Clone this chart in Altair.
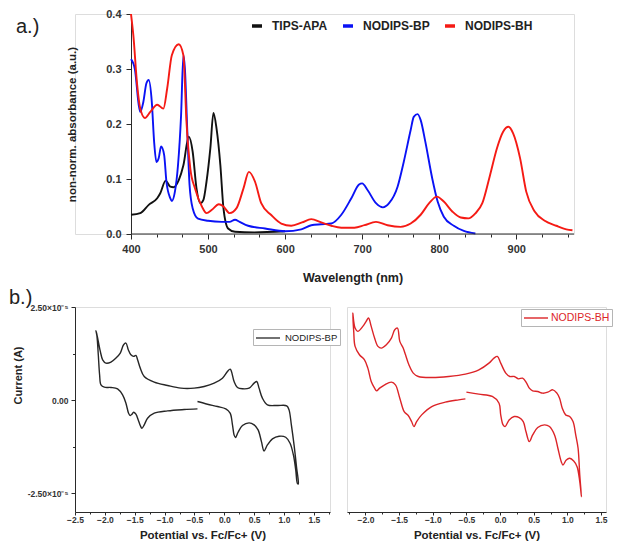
import altair as alt
import pandas as pd

# ---------------- data: absorption spectra ----------------
series_names = ["TIPS-APA", "NODIPS-BP", "NODIPS-BH"]
series_colors = ["#111111", "#0a12f5", "#f51a14"]

wl_tips = [400, 412, 423, 434, 438, 445, 451, 455, 462, 468, 475, 480, 485, 490, 494,
           498, 503, 507, 511, 516, 520, 526, 535, 560, 600]
ab_tips = [0.035, 0.038, 0.053, 0.065, 0.074, 0.097, 0.086, 0.085, 0.098, 0.125, 0.177,
           0.150, 0.083, 0.056, 0.062, 0.095, 0.156, 0.220, 0.192, 0.125, 0.047, 0.010,
           0.004, 0.003, 0.005]

wl_bp = [400, 405, 410, 412, 416, 420, 423, 427, 430, 433, 436, 439, 443, 446, 451, 453,
         457, 461, 465, 468, 470, 473, 476, 480, 487, 500, 518, 528, 535, 541, 552, 574,
         600, 621, 634, 647, 660, 673, 686, 696, 700, 707, 718, 727, 735, 746, 754, 763,
         767, 772, 776, 782, 791, 798, 806, 819, 832, 847]
ab_bp = [0.318, 0.300, 0.235, 0.222, 0.240, 0.274, 0.280, 0.240, 0.168, 0.131, 0.138,
         0.159, 0.144, 0.095, 0.065, 0.060, 0.077, 0.125, 0.216, 0.325, 0.300, 0.190,
         0.089, 0.047, 0.028, 0.024, 0.022, 0.022, 0.026, 0.022, 0.015, 0.010, 0.005,
         0.0085, 0.016, 0.0176, 0.019, 0.035, 0.065, 0.090, 0.092, 0.080, 0.056, 0.0485,
         0.056, 0.086, 0.131, 0.189, 0.213, 0.218, 0.207, 0.168, 0.101, 0.059, 0.0315,
         0.015, 0.0055, 0.001]

wl_bh = [400, 403, 408, 412, 418, 425, 434, 442, 447, 453, 462, 468, 472, 477, 483, 492,
         498, 505, 514, 520, 528, 537, 546, 553, 561, 569, 582, 595, 608, 622, 634, 647,
         660, 673, 690, 703, 718, 733, 750, 763, 776, 787, 797, 806, 817, 828, 838, 847,
         856, 866, 875, 883, 890, 896, 905, 913, 924, 937, 952, 965, 973]
ab_bh = [0.400, 0.362, 0.271, 0.228, 0.211, 0.222, 0.235, 0.228, 0.265, 0.325, 0.345,
         0.325, 0.204, 0.119, 0.083, 0.050, 0.038, 0.044, 0.054, 0.050, 0.038, 0.047,
         0.083, 0.113, 0.095, 0.056, 0.0345, 0.019, 0.015, 0.021, 0.027, 0.021, 0.015,
         0.0115, 0.0115, 0.016, 0.022, 0.016, 0.013, 0.019, 0.035, 0.056, 0.068, 0.059,
         0.041, 0.030, 0.0285, 0.0376, 0.056, 0.107, 0.156, 0.186, 0.195, 0.183, 0.138,
         0.077, 0.041, 0.024, 0.015, 0.0085, 0.0067]

# ---------------- data: cyclic voltammograms (current in 1e-5 A) ----------------
cv_bp_v = [-0.449, -0.282, -0.114, 0.025, 0.098, 0.137, 0.164, 0.187, 0.231, 0.304, 0.415,
           0.499, 0.566, 0.622, 0.666, 0.722, 0.806, 0.917, 1.028, 1.101, 1.157, 1.196,
           1.224, 1.240, 1.212, 1.168, 1.123, 1.084, 1.045, 0.889, 0.722, 0.638, 0.582,
           0.543, 0.499, 0.415, 0.304, 0.220, 0.164, 0.120, 0.098, 0.053, -0.031, -0.170,
           -0.337, -0.505, -0.727, -0.950, -1.173, -1.341, -1.407, -1.452, -1.480, -1.519,
           -1.564, -1.608, -1.647, -1.686, -1.742, -1.814, -1.898, -1.982, -2.037, -2.076,
           -2.110, -2.138, -2.149, -2.132, -2.110, -2.088, -2.065, -2.009, -1.898, -1.787,
           -1.703, -1.647, -1.603, -1.575, -1.547, -1.519, -1.480, -1.441, -1.407, -1.380,
           -1.341, -1.285, -1.173, -0.950, -0.672, -0.449]
cv_bp_i = [-0.036, -0.108, -0.170, -0.233, -0.349, -0.663, -0.932, -1.004, -0.860, -0.681,
           -0.609, -0.663, -0.797, -1.111, -1.362, -1.201, -1.039, -0.968, -0.995, -1.156,
           -1.470, -1.873, -2.231, -2.249, -1.828, -1.201, -0.663, -0.260, -0.152, -0.143,
           -0.125, 0.054, 0.323, 0.502, 0.457, 0.323, 0.305, 0.341, 0.502, 0.771, 0.833,
           0.771, 0.591, 0.457, 0.367, 0.323, 0.323, 0.394, 0.484, 0.636, 0.860, 1.084,
           1.201, 1.174, 1.219, 1.353, 1.532, 1.487, 1.263, 1.129, 1.022, 0.995, 1.084,
           1.308, 1.577, 1.801, 1.864, 1.711, 1.219, 0.681, 0.412, 0.349, 0.341, 0.305,
           0.143, -0.081, -0.349, -0.412, -0.376, -0.323, -0.376, -0.529, -0.681, -0.753,
           -0.663, -0.484, -0.349, -0.287, -0.251, -0.233]

cv_bh_v = [-0.500, -0.315, -0.115, -0.015, 0.010, 0.045, 0.075, 0.135, 0.210, 0.285, 0.345,
           0.385, 0.435, 0.485, 0.560, 0.660, 0.735, 0.810, 0.860, 0.910, 0.935, 0.985,
           1.035, 1.095, 1.145, 1.185, 1.210, 1.185, 1.160, 1.125, 1.085, 1.035, 0.975,
           0.925, 0.885, 0.845, 0.785, 0.710, 0.635, 0.560, 0.485, 0.435, 0.395, 0.335,
           0.275, 0.210, 0.145, 0.085, 0.010, -0.040, -0.090, -0.165, -0.315, -0.515,
           -0.765, -1.015, -1.215, -1.290, -1.355, -1.405, -1.440, -1.490, -1.525, -1.565,
           -1.615, -1.690, -1.765, -1.815, -1.865, -1.915, -1.955, -1.990, -2.040, -2.115,
           -2.155, -2.190, -2.175, -2.155, -2.090, -2.015, -1.965, -1.915, -1.865, -1.835,
           -1.790, -1.715, -1.615, -1.555, -1.490, -1.425, -1.365, -1.315, -1.280, -1.240,
           -1.165, -1.015, -0.815, -0.615, -0.515]
cv_bh_i = [0.215, 0.161, 0.099, -0.081, -0.394, -0.663, -0.708, -0.529, -0.439, -0.466,
           -0.573, -0.842, -1.111, -0.932, -0.735, -0.663, -0.708, -0.932, -1.290, -1.649,
           -1.738, -1.604, -1.559, -1.631, -1.783, -2.186, -2.590, -2.007, -1.290, -0.932,
           -0.573, -0.439, -0.394, -0.215, 0.054, 0.188, 0.278, 0.215, 0.188, 0.233, 0.251,
           0.323, 0.457, 0.591, 0.573, 0.636, 0.636, 0.726, 0.995, 1.174, 1.129, 0.995,
           0.815, 0.699, 0.636, 0.609, 0.636, 0.726, 0.950, 1.219, 1.398, 1.577, 1.935,
           1.891, 1.667, 1.487, 1.398, 1.443, 1.667, 1.980, 2.204, 2.115, 1.980, 1.846,
           1.935, 2.339, 1.846, 1.443, 1.219, 1.084, 0.860, 0.502, 0.323, 0.251, 0.323,
           0.412, 0.484, 0.412, 0.054, -0.305, -0.412, -0.573, -0.708, -0.573, -0.394,
           -0.170, -0.054, 0.009, 0.036]

# ---------------- tables ----------------
spec = pd.concat([
    pd.DataFrame({"wl": wl_tips, "ab": ab_tips, "series": "TIPS-APA"}),
    pd.DataFrame({"wl": wl_bp, "ab": ab_bp, "series": "NODIPS-BP"}),
    pd.DataFrame({"wl": wl_bh, "ab": ab_bh, "series": "NODIPS-BH"}),
], ignore_index=True)
cv_bp = pd.DataFrame({"v": cv_bp_v, "i": cv_bp_i, "series": "NODIPS-BP",
                      "idx": range(len(cv_bp_v))})
cv_bh = pd.DataFrame({"v": cv_bh_v, "i": cv_bh_i, "series": "NODIPS-BH",
                      "idx": range(len(cv_bh_v))})

FONT = "Liberation Sans"
INK = "#2a2a2a"

# ---------------- panel a ----------------
TOP_W = 443.0          # width of the 400-975 nm span
EXT = 56.0             # extra room on the left so the y axis sits right of panel b's
WL_MIN_AXIS = 400.0
WL_MAX = 975.0
wl_min = WL_MIN_AXIS - EXT * (WL_MAX - WL_MIN_AXIS) / TOP_W

wl_ticks = [400 + k * 100 / 3 for k in range(18)]
is_major = "abs(datum.value/100 - round(datum.value/100)) < 0.01"
x_top = alt.X("wl:Q", scale=alt.Scale(domain=[wl_min, WL_MAX], nice=False, zero=False),
              axis=alt.Axis(values=wl_ticks, title="Wavelength (nm)", domain=False,
                            labelExpr=is_major + " ? format(datum.value, '.0f') : ''",
                            tickSize={"condition": {"test": is_major, "value": 5}, "value": 3},
                            labelPadding=4, labelFlush=False, labelOverlap=False,
                            labelFontWeight="bold", labelFontSize=11, labelColor="#333",
                            titleFontWeight="bold", titleFontSize=12.5, titleColor="#222",
                            titleX=EXT + TOP_W / 2, titleY=37, titleBaseline="top",
                            tickColor=INK, grid=False))
y_top = alt.Y("ab:Q", scale=alt.Scale(domain=[0, 0.4], nice=False),
              axis=alt.Axis(values=[0, 0.1, 0.2, 0.3, 0.4], format=".1f", offset=-EXT,
                            title="non-norm. absorbance (a.u.)",
                            tickSize=5, labelPadding=5,
                            labelFontWeight="bold", labelFontSize=11, labelColor="#333",
                            titleFontWeight="bold", titleFontSize=11.5, titleColor="#222",
                            titleX=-54, titleY=110,
                            domainColor=INK, tickColor=INK, grid=False))

top_lines = alt.Chart(spec).mark_line(strokeWidth=1.9, interpolate="monotone").encode(
    x=x_top, y=y_top,
    color=alt.Color("series:N",
                    scale=alt.Scale(domain=series_names, range=series_colors),
                    sort=series_names,
                    legend=alt.Legend(orient="none", legendX=EXT + 119, legendY=5,
                                      direction="horizontal", title=None,
                                      symbolType="stroke", symbolSize=100,
                                      symbolStrokeWidth=3.5, labelFont=FONT,
                                      labelFontWeight="bold", labelFontSize=12,
                                      labelColor="#222", columnPadding=8,
                                      labelOffset=8, padding=0)),
    order=alt.Order("wl:Q"),
)
# x axis line drawn only over the measured 400-975 nm span
base_df = pd.DataFrame({"wl": [WL_MIN_AXIS], "wl2": [WL_MAX], "ab": [0.0]})
baseline = alt.Chart(base_df).mark_rule(color=INK, strokeWidth=1).encode(
    x=x_top, x2="wl2:Q", y=y_top)
a_label = alt.Chart(pd.DataFrame({"t": ["a.)"]})).mark_text(
    fontSize=20, font=FONT, color="#222", align="left", baseline="middle"
).encode(x=alt.value(-59), y=alt.value(13), text="t:N")

top = alt.layer(top_lines, baseline, a_label).properties(width=EXT + TOP_W, height=220)

# ---------------- panel b ----------------
cv_xticks = [-2.5 + 0.25 * k for k in range(18)]
cv_xticks_r = [-2.25 + 0.25 * k for k in range(16)]
is_half = "abs(datum.value*2 - round(datum.value*2)) < 0.01"
lab_x = is_half + " ? format(datum.value, '.1f') : ''"
tick_x = {"condition": {"test": is_half, "value": 3}, "value": 2}


def cv_xaxis(vals):
    return alt.Axis(values=vals, title="Potential vs. Fc/Fc+ (V)", labelExpr=lab_x,
                    tickSize=tick_x, labelPadding=0, labelFlush=False, labelOverlap=False,
                    labelFontWeight="bold", labelFontSize=8.5, labelColor="#333",
                    titleFontWeight="bold", titleFontSize=11.5, titleColor="#222",
                    titleY=17, titleBaseline="top",
                    domainColor=INK, tickColor=INK, grid=False)


def cv_legend(x, y, fs, lc, stroke, loff):
    # a 24 px long line in a row only 12 px high
    return alt.Legend(orient="none", legendX=x, legendY=y, title=None,
                      symbolType="M-2,0H2", symbolSize=144, symbolStrokeWidth=stroke,
                      symbolOffset=6, labelOffset=loff,
                      labelFont=FONT, labelFontSize=fs, labelColor=lc,
                      strokeColor="#b5b5b5", fillColor="white", padding=2)


lab_y = ("datum.value == 0 ? '0.00' : (abs(datum.value - 2.5) < 0.01 ? '2.50\u00d710\u207b\u2075' : "
         "(abs(datum.value + 2.5) < 0.01 ? '-2.50\u00d710\u207b\u2075' : ''))")
cv_left_line = alt.Chart(cv_bp).mark_line(strokeWidth=1.4, interpolate="catmull-rom").encode(
    x=alt.X("v:Q", scale=alt.Scale(domain=[-2.5, 1.77], nice=False, zero=False),
            axis=cv_xaxis(cv_xticks)),
    y=alt.Y("i:Q", scale=alt.Scale(domain=[-3.0, 2.5], nice=False),
            axis=alt.Axis(values=[-2.5, -1.25, 0, 1.25, 2.5], labelExpr=lab_y,
                          tickSize={"condition": {"test": "abs(datum.value) == 1.25", "value": 2.5}, "value": 4},
                          labelPadding=3, labelFontWeight="bold", labelFontSize=8.5,
                          labelColor="#333", labelOverlap=False,
                          title="Current (A)", titleFontWeight="bold", titleFontSize=11,
                          titleColor="#222", titleX=-52, titleY=68,
                          domainColor=INK, tickColor=INK, grid=False)),
    color=alt.Color("series:N", scale=alt.Scale(domain=["NODIPS-BP"], range=["#262626"]),
                    legend=cv_legend(178, 22, 9.5, "#222", 1.3, 10)),
    order=alt.Order("idx:Q"),
)
b_label = alt.Chart(pd.DataFrame({"t": ["b.)"]})).mark_text(
    fontSize=20, font=FONT, color="#222", align="left", baseline="middle"
).encode(x=alt.value(-66), y=alt.value(-9), text="t:N")
left = alt.layer(cv_left_line, b_label).properties(width=255, height=205)

right = alt.Chart(cv_bh).mark_line(strokeWidth=1.4, interpolate="catmull-rom").encode(
    x=alt.X("v:Q", scale=alt.Scale(domain=[-2.275, 1.575], nice=False, zero=False),
            axis=cv_xaxis(cv_xticks_r)),
    y=alt.Y("i:Q", scale=alt.Scale(domain=[-3.0, 2.5], nice=False), axis=None),
    color=alt.Color("series:N", scale=alt.Scale(domain=["NODIPS-BH"], range=["#dc2428"]),
                    legend=cv_legend(174, 2, 10.5, "#dc2428", 1.4, 8)),
    order=alt.Order("idx:Q"),
).properties(width=259, height=205)

bottom = alt.hconcat(left, right, spacing=5).resolve_scale(
    color="independent").resolve_legend(color="independent")

chart = alt.vconcat(top, bottom, spacing=3,
                    padding={"top": -1, "left": 0, "right": 0, "bottom": 0}).resolve_scale(
    color="independent").resolve_legend(color="independent").configure_view(
    stroke="transparent").configure(font=FONT)

chart.save("out.html", embed_options={"renderer": "svg", "actions": False})
